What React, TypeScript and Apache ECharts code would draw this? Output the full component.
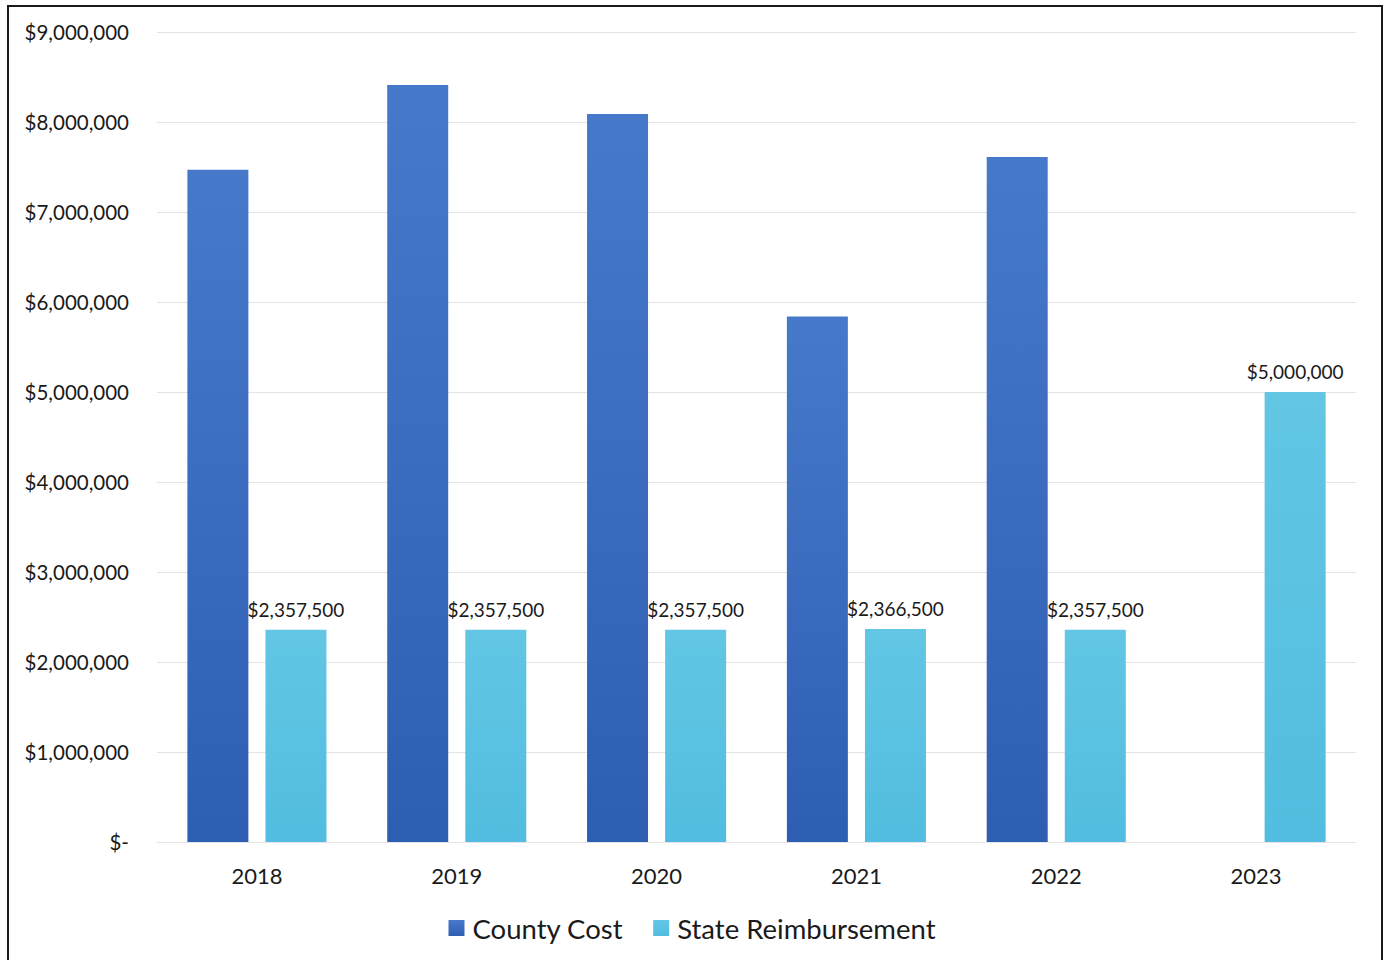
import React, { useEffect, useRef } from "react";
import * as echarts from "echarts";

const years = ["2018", "2019", "2020", "2021", "2022", "2023"];
const countyCost = [7470000, 8410000, 8090000, 5840000, 7610000, null];
const stateReimbursement = [2357500, 2357500, 2357500, 2366500, 2357500, 5000000];
const seriesNames = ["County Cost", "State Reimbursement"];

const FONT = "Lato, 'Open Sans', sans-serif";

function fmtMoney(v: number): string {
  if (v === 0) return "$-";
  return "$" + v.toLocaleString("en-US");
}

export default function App() {
  const ref = useRef<HTMLDivElement>(null);
  useEffect(() => {
    if (!ref.current) return;
    const chart = echarts.init(ref.current, undefined, { renderer: "svg" });
    chart.setOption({
      animation: false,
      backgroundColor: "#ffffff",
      textStyle: { fontFamily: FONT },
      graphic: [
        {
          type: "rect",
          shape: { x: 8, y: 6, width: 1374, height: 1000 },
          style: { fill: "none", stroke: "#1a1a1a", lineWidth: 2 },
          silent: true,
        },
      ],
      grid: { left: 157, right: 28, top: 32, bottom: 118, containLabel: false },
      legend: {
        top: 909,
        left: "center",
        itemWidth: 16,
        itemHeight: 16,
        itemGap: 30,
        icon: "rect",
        textStyle: { fontSize: 27.5, color: "#1a1a1a", fontFamily: FONT, padding: [0, 0, 0, 3] },
        data: seriesNames,
      },
      xAxis: {
        type: "category",
        data: years,
        axisLine: { show: false },
        axisTick: { show: false },
        axisLabel: { fontSize: 22, color: "#1a1a1a", margin: 22, fontFamily: FONT },
      },
      yAxis: {
        type: "value",
        min: 0,
        max: 9000000,
        interval: 1000000,
        axisLine: { show: false },
        axisTick: { show: false },
        splitLine: { lineStyle: { color: "#e4e4e4", width: 1 } },
        axisLabel: {
          fontSize: 20.5,
          color: "#1a1a1a",
          margin: 28,
          fontFamily: FONT,
          formatter: (v: number) => fmtMoney(v),
        },
      },
      series: [
        {
          name: seriesNames[0],
          type: "bar",
          data: countyCost,
          barWidth: 61,
          barGap: "28%",
          itemStyle: {
            color: new echarts.graphic.LinearGradient(0, 0, 0, 1, [
              { offset: 0, color: "#4779cb" },
              { offset: 1, color: "#2e5eb1" },
            ]),
          },
        },
        {
          name: seriesNames[1],
          type: "bar",
          data: stateReimbursement,
          barWidth: 61,
          itemStyle: {
            color: new echarts.graphic.LinearGradient(0, 0, 0, 1, [
              { offset: 0, color: "#62c6e4" },
              { offset: 1, color: "#52bde0" },
            ]),
          },
          label: {
            show: true,
            position: "top",
            distance: 11,
            fontSize: 19,
            color: "#1a1a1a",
            fontFamily: FONT,
            formatter: (p: any) => fmtMoney(p.value),
          },
        },
      ],
    });
    return () => chart.dispose();
  }, []);
  return (
    <div style={{ position: "absolute", left: 0, top: 0, width: 1384, height: 960, overflow: "hidden" }}>
      <div ref={ref} style={{ width: 1384, height: 960 }} />
    </div>
  );
}
